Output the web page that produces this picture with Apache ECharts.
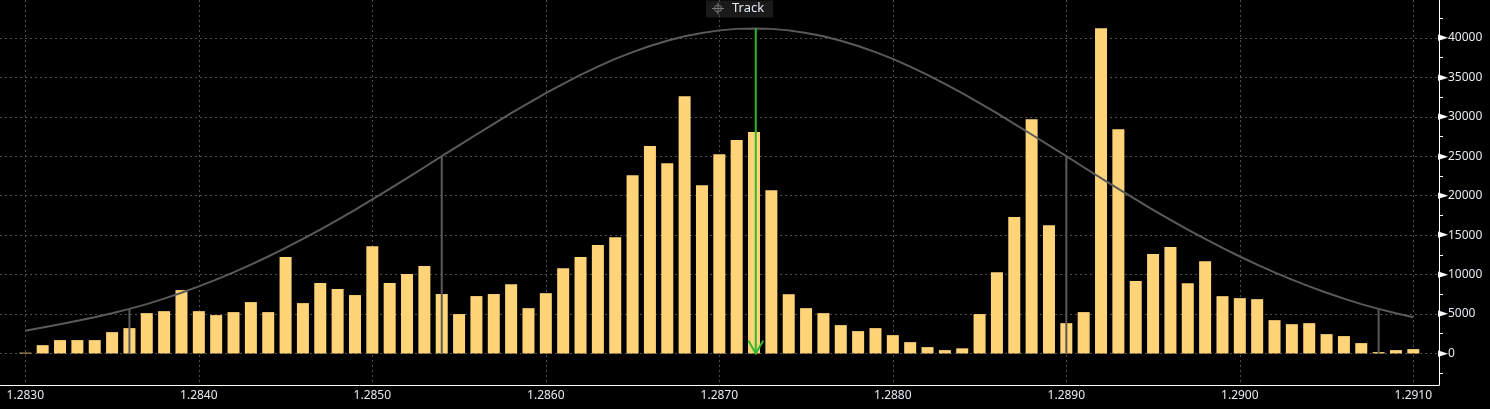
<!DOCTYPE html>
<html>
<head>
<meta charset="utf-8">
<script src="https://cdn.jsdelivr.net/npm/echarts@6/dist/echarts.min.js"></script>
<style>
html,body{margin:0;padding:0;background:#000;}
#chart{width:1490px;height:409px;}
</style>
</head>
<body>
<div id="chart"></div>
<script>
// Price levels (x categories)
const prices = [
  1.2830,1.2831,1.2832,1.2833,1.2834,1.2835,1.2836,1.2837,1.2838,1.2839,
  1.2840,1.2841,1.2842,1.2843,1.2844,1.2845,1.2846,1.2847,1.2848,1.2849,
  1.2850,1.2851,1.2852,1.2853,1.2854,1.2855,1.2856,1.2857,1.2858,1.2859,
  1.2860,1.2861,1.2862,1.2863,1.2864,1.2865,1.2866,1.2867,1.2868,1.2869,
  1.2870,1.2871,1.2872,1.2873,1.2874,1.2875,1.2876,1.2877,1.2878,1.2879,
  1.2880,1.2881,1.2882,1.2883,1.2884,1.2885,1.2886,1.2887,1.2888,1.2889,
  1.2890,1.2891,1.2892,1.2893,1.2894,1.2895,1.2896,1.2897,1.2898,1.2899,
  1.2900,1.2901,1.2902,1.2903,1.2904,1.2905,1.2906,1.2907,1.2908,1.2909,
  1.2910
];
// Volume at each price (bars)
const volumes = [
  100,1050,1690,1690,1690,2700,3210,5110,5360,8030,
  5360,4860,5240,6510,5240,12210,6380,8920,8160,7400,
  13600,8920,10060,11070,7530,4990,7270,7530,8780,5740,
  7640,10810,12210,13730,14740,22600,26280,24120,32610,21330,
  25260,27040,28060,20700,7510,5740,5110,3590,2830,3210,
  2320,1430,800,420,650,4990,10300,17280,29700,16260,
  3840,5240,41230,28430,9170,12590,13480,8910,11700,7260,
  7010,6880,4220,3710,3840,2450,2200,1310,170,420,
  550
];
// Distribution curve read at each price
const curve = [
  2870,3280,3700,4150,4600,5100,5650,6250,6950,7700,
  8500,9350,10270,11250,12290,13380,14520,15700,16940,18210,
  19520,20860,22220,23600,25000,26380,27750,29110,30450,31740,
  32990,34180,35310,36360,37330,38200,38970,39640,40200,40630,
  40950,41140,41200,41140,40950,40630,40200,39640,38970,38200,
  37330,36360,35310,34180,32990,31740,30450,29110,27750,26380,
  25000,23600,22220,20860,19520,18210,16940,15700,14520,13380,
  12290,11250,10270,9350,8500,7700,6950,6250,5650,5100,
  4600
];
// Vertical sigma markers [price, height]
const sigmaLines = [[1.2836,5650],[1.2854,25000],[1.2890,25000],[1.2908,5650]];
// Track marker [price, top]
const trackMarker = [[1.28721,41200]];
const trackLabel = 'Track';
// Tick labels
const xTicks = [1.2830,1.2840,1.2850,1.2860,1.2870,1.2880,1.2890,1.2900,1.2910];
const yTicks = [0,5000,10000,15000,20000,25000,30000,35000,40000];
const yMinorTicks = [-2500,2500,7500,12500,17500,22500,27500,32500,37500,42500];

const chart = echarts.init(document.getElementById('chart'), null, {renderer:'canvas'});
const labelColor = '#e4ebf3';
const gridColor = '#4e4e4e';
const curveColor = '#5a5a5a';

const option = {
  backgroundColor:'#000',
  animation:false,
  grid:{left:0,right:51,top:0,bottom:24,containLabel:false},
  xAxis:{
    type:'value', min:1.282854, max:1.291148,
    axisLine:{show:true,onZero:false,lineStyle:{color:'#ffffff',width:1}},
    axisTick:{show:false,customValues:xTicks},
    axisLabel:{customValues:xTicks,formatter:v=>v.toFixed(4),color:labelColor,fontFamily:'Noto Sans',fontSize:12,margin:5},
    splitLine:{show:true,lineStyle:{color:gridColor,width:1,type:[2,3]}}
  },
  yAxis:[{
    type:'value', position:'right', min:-4000, max:44800,
    axisLine:{show:true,lineStyle:{color:'#ffffff',width:1}},
    axisTick:{show:false,customValues:yTicks},
    axisLabel:{
      customValues:yTicks, margin:-1,
      formatter:v=>'{t|\u25BA}{v|'+v+'}',
      rich:{
        t:{fontFamily:'DejaVu Sans',fontSize:13,color:'#ffffff',padding:[0,0,0,0]},
        v:{fontFamily:'Noto Sans',fontSize:12,color:labelColor}
      }
    },
    splitLine:{show:true,lineStyle:{color:gridColor,width:1,type:[2,3]}}
  },{
    type:'value', position:'right', min:-4000, max:44800,
    axisLine:{show:false},
    axisTick:{show:true,customValues:yMinorTicks,length:4,inside:false,lineStyle:{color:'#ffffff',width:1}},
    axisLabel:{show:false},
    splitLine:{show:false}
  }],
  series:[
    {
      type:'bar', yAxisIndex:0, barWidth:12, z:2,
      data:prices.map((p,i)=>[p,volumes[i]]),
      itemStyle:{color:'#FFD378'}
    },
    {
      type:'line', yAxisIndex:0, z:3, showSymbol:false, smooth:false,
      data:prices.map((p,i)=>[p,curve[i]]),
      lineStyle:{color:curveColor,width:2}
    },
    {
      type:'custom', yAxisIndex:0, z:4,
      data:sigmaLines,
      renderItem:function(params,api){
        const top = api.coord([api.value(0),api.value(1)]);
        const bot = api.coord([api.value(0),0]);
        return {type:'line',shape:{x1:top[0],y1:top[1],x2:bot[0],y2:bot[1]},style:{stroke:curveColor,lineWidth:2}};
      }
    },
    {
      type:'custom', yAxisIndex:0, z:5,
      data:trackMarker,
      renderItem:function(params,api){
        const top = api.coord([api.value(0),api.value(1)]);
        const bot = api.coord([api.value(0),0]);
        const c = '#2fb82f';
        return {type:'group',children:[
          {type:'line',shape:{x1:top[0],y1:top[1],x2:bot[0],y2:bot[1]},style:{stroke:c,lineWidth:2}},
          {type:'polyline',shape:{points:[[bot[0]-7.5,bot[1]-13],[bot[0],bot[1]],[bot[0]+7.5,bot[1]-13]]},style:{stroke:c,lineWidth:2,fill:null}}
        ]};
      }
    }
  ],
  graphic:[{
    type:'group', left:706, top:0, z:100,
    children:[
      {type:'rect',shape:{x:0,y:0,width:67,height:17},style:{fill:'#1a1a1a'}},
      {type:'circle',shape:{cx:12,cy:8,r:3.5},style:{stroke:'#7a7a7a',fill:null,lineWidth:1}},
      {type:'line',shape:{x1:6,y1:8,x2:18,y2:8},style:{stroke:'#7a7a7a',lineWidth:1}},
      {type:'line',shape:{x1:12,y1:2,x2:12,y2:14},style:{stroke:'#7a7a7a',lineWidth:1}},
      {type:'text',x:26,y:8,style:{text:trackLabel,fill:labelColor,font:'13px "Noto Sans"',verticalAlign:'middle',align:'left'}}
    ]
  }]
};
chart.setOption(option);
</script>
</body>
</html>
